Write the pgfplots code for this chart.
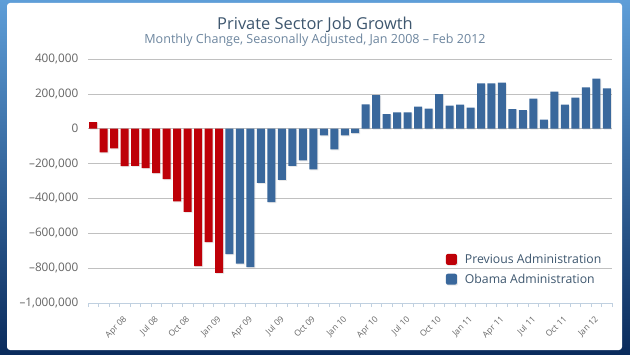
\documentclass[border=0pt]{standalone}
\usepackage{pgfplots}
\pgfplotsset{compat=1.18}
\usepackage{fontspec}
\setmainfont{Open Sans}
\usetikzlibrary{shadows}
\definecolor{prevred}{HTML}{BE0008}
\definecolor{obamablue}{HTML}{3A689C}
\definecolor{frametop}{HTML}{5E9ED8}
\definecolor{framebot}{HTML}{0A2B5C}
\definecolor{titlecol}{HTML}{3E576F}
\definecolor{subcol}{HTML}{6D869F}
\definecolor{gridcol}{HTML}{C0C0C0}
\definecolor{labelcol}{HTML}{666666}
\definecolor{axcol}{HTML}{C0D0E0}

\pgfplotstableread{
x y
1 38
2 -136
3 -113
4 -215
5 -213
6 -226
7 -255
8 -289
9 -417
10 -477
11 -789
12 -651
13 -827
}\prevdata

\pgfplotstableread{
x y
14 -719
15 -774
16 -794
17 -311
18 -421
19 -294
20 -213
21 -181
22 -234
23 -38
24 -119
25 -38
26 -26
27 140
28 192
29 83
30 94
31 94
32 127
33 115
34 198
35 133
36 138
37 121
38 260
39 260
40 265
41 112
42 106
43 173
44 52
45 213
46 138
47 179
48 237
49 288
50 231
}\obamadata

\begin{document}
\begin{tikzpicture}[x=1bp,y=1bp]
\shade[top color=frametop, bottom color=framebot] (0,0) rectangle (630,354);
\fill[white, rounded corners=3bp] (7,4) rectangle (622,351);
\node[titlecol, font=\fontsize{16.5}{18}\selectfont, anchor=base, inner sep=0] at (315,325) {Private Sector Job Growth};
\node[subcol, font=\fontsize{12.6}{14}\selectfont, anchor=base, inner sep=0] at (315,310.5) {Monthly Change, Seasonally Adjusted, Jan 2008 -- Feb 2012};
\begin{axis}[
  at={(88bp,51bp)}, anchor=south west,
  scale only axis, width=524bp, height=244bp,
  ybar, bar width=8bp,
  xmin=0.5, xmax=50.5, ymin=-1000, ymax=400,
  axis x line*=bottom, axis y line*=left,
  y axis line style={draw=none},
  x axis line style={draw=axcol, line width=0.8bp},
  ytick={-1000,-800,-600,-400,-200,0,200,400},
  yticklabels={{--1,000,000},{--800,000},{--600,000},{--400,000},{--200,000},0,{200,000},{400,000}},
  ytick style={draw=none},
  yticklabel style={labelcol, font=\fontsize{11.8}{13}\selectfont, xshift=-2bp},
  ymajorgrids, grid style={gridcol, line width=0.6bp},
  xtick={4,7,...,49},
  xticklabels={Apr 08, Jul 08, Oct 08, Jan 09, Apr 09, Jul 09, Oct 09, Jan 10, Apr 10, Jul 10, Oct 10, Jan 11, Apr 11, Jul 11, Oct 11, Jan 12},
  xticklabel style={xshift=-2bp, yshift=-8bp, rotate=45, anchor=north east, font=\fontsize{8.5}{9}\selectfont, labelcol, inner sep=0bp},
  major x tick style={draw=none},
  minor xtick={0.5,1.5,...,50.5},
  minor x tick style={draw=axcol, line width=0.6bp},
  minor tick length=4bp, tick align=outside,
  clip=false,
  legend style={at={(0.677,0.218)}, anchor=north west, draw=none, fill=none,
    font=\fontsize{12.3}{14}\selectfont, text=titlecol, row sep=5bp,
    /tikz/every odd column/.append style={column sep=6bp}},
  legend cell align=left,
  legend image code/.code={\path[fill, draw=none, rounded corners=2bp] (0bp,-5.5bp) rectangle (11bp,5.5bp);},
]
\addplot[fill=prevred, draw=none, bar shift=0pt,
  drop shadow={shadow xshift=1bp, shadow yshift=-1bp, opacity=0.18}] table[x=x,y=y] {\prevdata};
\addlegendentry{Previous Administration}
\addplot[fill=obamablue, draw=none, bar shift=0pt,
  drop shadow={shadow xshift=1bp, shadow yshift=-1bp, opacity=0.18}] table[x=x,y=y] {\obamadata};
\addlegendentry{Obama Administration}
\end{axis}
\end{tikzpicture}
\end{document}
